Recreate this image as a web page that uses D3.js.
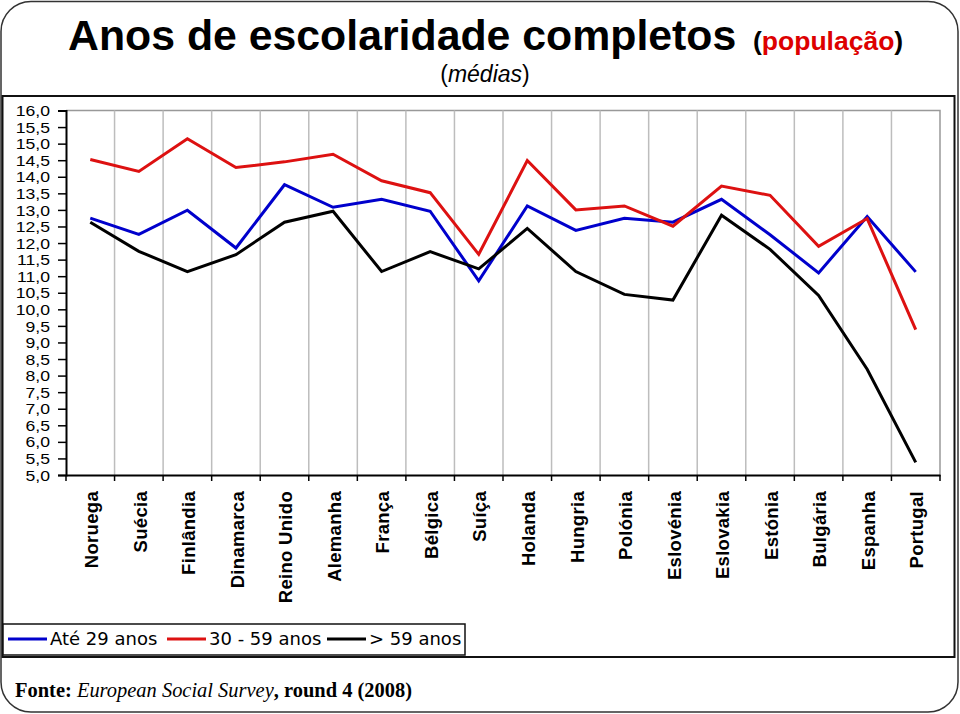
<!DOCTYPE html>
<html><head><meta charset="utf-8">
<script src="https://cdn.jsdelivr.net/npm/d3@7"></script>
<style>
html,body{margin:0;padding:0;background:#fff;}
svg{display:block;}
</style></head>
<body>
<svg id="c" width="960" height="714"></svg>
<script>
const countries = ["Noruega","Suécia","Finlândia","Dinamarca","Reino Unido","Alemanha","França","Bélgica","Suíça","Holanda","Hungria","Polónia","Eslovénia","Eslovakia","Estónia","Bulgária","Espanha","Portugal"];
const ate29 = [12.75,12.26,12.99,11.85,13.76,13.08,13.32,12.96,10.86,13.12,12.38,12.75,12.63,13.32,12.25,11.10,12.80,11.13];
const de30a59 = [14.52,14.16,15.15,14.28,14.45,14.68,13.88,13.52,11.66,14.49,13.00,13.12,12.51,13.72,13.44,11.90,12.74,9.39];
const mais59 = [12.63,11.75,11.14,11.65,12.63,12.96,11.14,11.74,11.22,12.44,11.14,10.45,10.28,12.84,11.81,10.42,8.19,5.38];
const seriesNames = ["Até 29 anos","30 - 59 anos","> 59 anos"];
const seriesColors = ["#0000cc","#dd1111","#000000"];
const yTicks = d3.range(5, 16.01, 0.5);

const svg = d3.select("#c");
const sans = "'Liberation Sans',Arial,Helvetica,sans-serif";
// outer rounded frame
svg.append("rect").attr("x",1).attr("y",1.5).attr("width",957).attr("height",710.5)
  .attr("rx",30).attr("ry",30).attr("fill","none").attr("stroke","#333").attr("stroke-width",1.5);

// title
svg.append("text").attr("x",68).attr("y",50).attr("font-family",sans)
  .attr("font-size",42.8).attr("font-weight","bold").attr("fill","#000")
  .text("Anos de escolaridade completos");
const t2 = svg.append("text").attr("x",753).attr("y",50).attr("font-family",sans)
  .attr("font-size",26.5).attr("font-weight","bold");
t2.append("tspan").attr("fill","#000").text("(");
t2.append("tspan").attr("fill","#dd0000").text("população");
t2.append("tspan").attr("fill","#000").text(")");
const st = svg.append("text").attr("x",485).attr("y",82).attr("text-anchor","middle")
  .attr("font-family",sans).attr("font-size",23);
st.append("tspan").text("(");
st.append("tspan").attr("font-style","italic").text("médias");
st.append("tspan").text(")");

// chart box
svg.append("rect").attr("x",2.5).attr("y",96).attr("width",952).attr("height",561)
  .attr("fill","none").attr("stroke","#111").attr("stroke-width",2);

const m = {l:66, r:940, t:110.5, b:475};
const x = d3.scaleBand().domain(countries).range([m.l, m.r]).padding(0);
const y = d3.scaleLinear().domain([5,16]).range([m.b, m.t]);

// plot border (grey top/right)
svg.append("path").attr("d",`M${m.l},${m.t}H${m.r}V${m.b}`).attr("fill","none").attr("stroke","#999").attr("stroke-width",1.5);

// vertical gridlines at category boundaries
const bounds = countries.slice(1).map(c => x(c));
svg.append("g").selectAll("line").data(bounds).join("line")
  .attr("x1",d=>d).attr("x2",d=>d).attr("y1",m.t).attr("y2",m.b)
  .attr("stroke","#bdbdbd").attr("stroke-width",1.5);

// y axis
const yAxis = d3.axisLeft(y).tickValues(yTicks).tickSize(8).tickPadding(8)
  .tickFormat(d => d3.format(".1f")(d).replace(".", ","));
const gy = svg.append("g").attr("transform",`translate(${m.l},0)`).call(yAxis);
gy.select(".domain").attr("stroke","#000").attr("stroke-width",2);
gy.selectAll(".tick line").attr("stroke","#000").attr("stroke-width",1.5);
gy.selectAll(".tick text").attr("font-family",sans).attr("font-size",14.2).attr("fill","#000").attr("dy","0.36em")
  .each(function(){ const w = this.getComputedTextLength(); d3.select(this).attr("textLength", w*1.24).attr("lengthAdjust","spacingAndGlyphs"); });

// x axis
const xAxis = d3.axisBottom(x).tickValues([]).tickSizeOuter(0);
const gx = svg.append("g").attr("transform",`translate(0,${m.b})`).call(xAxis);
gx.select(".domain").attr("stroke","#000").attr("stroke-width",2);
gx.append("g").selectAll("line").data([m.l, ...bounds, m.r]).join("line")
  .attr("x1",d=>d).attr("x2",d=>d).attr("y1",0).attr("y2",6).attr("stroke","#000").attr("stroke-width",1.5);
svg.append("g").selectAll("text").data(countries).join("text")
  .attr("transform",d=>`translate(${x(d)+x.bandwidth()/2+1},491) rotate(-90)`)
  .attr("text-anchor","end").attr("dy","0.36em")
  .attr("font-family",sans).attr("font-weight","bold")
  .attr("font-size",18.5).attr("letter-spacing",0.3).attr("fill","#000").text(d=>d);

// lines
const allSeries = [ate29, de30a59, mais59];
const line = d3.line().x((d,i)=>x(countries[i])+x.bandwidth()/2).y(d=>y(d));
svg.append("g").selectAll("path").data(allSeries).join("path")
  .attr("d",line).attr("fill","none").attr("stroke",(d,i)=>seriesColors[i])
  .attr("stroke-width",3).attr("stroke-linejoin","miter");

// legend
svg.append("rect").attr("x",3).attr("y",624).attr("width",462).attr("height",31)
  .attr("fill","#fff").attr("stroke","#111").attr("stroke-width",1.5);
const legX = [8, 167, 327];
const lg = svg.append("g").selectAll("g").data(seriesNames).join("g")
  .attr("transform",(d,i)=>`translate(${legX[i]},639)`);
lg.append("line").attr("x1",0).attr("x2",39).attr("y1",0).attr("y2",0)
  .attr("stroke",(d,i)=>seriesColors[i]).attr("stroke-width",3);
lg.append("text").attr("x",42).attr("dy","0.36em")
  .attr("font-family","'DejaVu Sans',Verdana,sans-serif")
  .attr("font-size",18).attr("fill","#000").text(d=>d);

// footer
const f = svg.append("text").attr("x",15).attr("y",697)
  .attr("font-family","'Liberation Serif','Times New Roman',serif").attr("font-size",21).attr("fill","#000")
  .attr("textLength",397).attr("lengthAdjust","spacingAndGlyphs");
f.append("tspan").attr("font-weight","bold").text("Fonte: ");
f.append("tspan").attr("font-style","italic").text("European Social Survey");
f.append("tspan").attr("font-weight","bold").text(", round 4 (2008)");
</script>
</body></html>
